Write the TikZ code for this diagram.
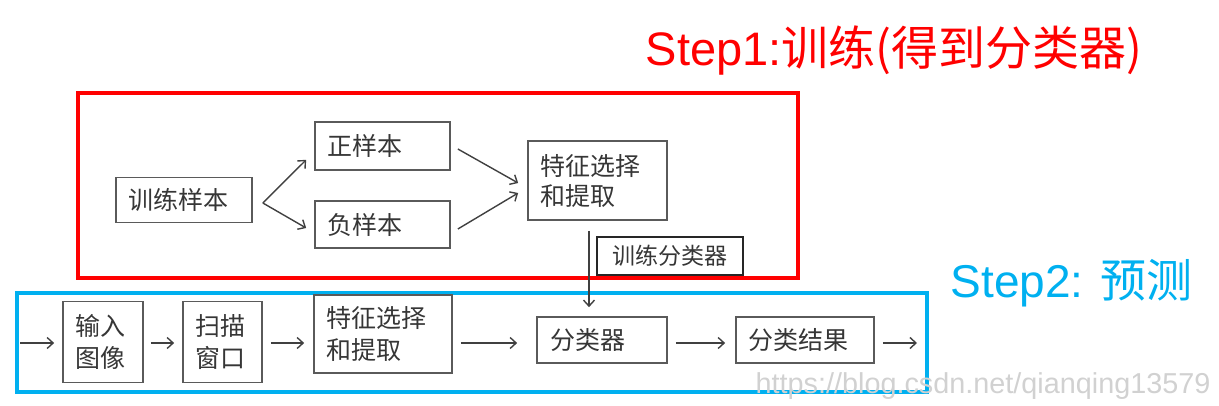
\documentclass[tikz,border=0pt]{standalone}
\usepackage{fontspec}
\setmainfont{Liberation Sans}
\newfontfamily\cjk{Noto Sans CJK SC}
\usetikzlibrary{arrows.meta}
\definecolor{cred}{HTML}{FF0000}
\definecolor{cblue}{HTML}{00B0F0}
\definecolor{cgrey}{HTML}{5A5A5A}
\definecolor{cline}{HTML}{404040}
\definecolor{ctext}{HTML}{363636}
\tikzset{
  every picture/.style={line width=1.3pt},
  box/.style={draw=cgrey, line width=1.7pt, align=left, inner xsep=#1, inner ysep=0pt, text=ctext, font=\cjk\fontsize{25}{32}\selectfont},
  box/.default=12pt,
  arrow/.style={-{Straight Barb[length=6pt,width=11pt]}, draw=cline, line width=1.4pt},
  frame/.style={draw=#1, line width=4.5pt},
  title/.style={font=\fontsize{47}{50}\selectfont, text=#1, inner sep=0pt, anchor=base west},
}

\begin{document}
\begin{tikzpicture}[x=1pt, y=-1pt]
  \useasboundingbox (0,0) rectangle (1219,405);

  \node[title=cred]  (step1) at (645,65)  {Step1:{\cjk 训练(得到分类器)}};
  \node[title=cblue, font=\fontsize{46}{50}\selectfont] (step2) at (950,297) {Step2: {\cjk 预测}};

  % ---- frames
  \draw[frame=cred]  (78,93) rectangle (798,278);
  \draw[frame=cblue] (17,293) rectangle (927,392);

  % ---- step 1: training
  \node[box, text width=112pt, minimum height=45pt] (train) at (184,200)     {训练样本};
  \node[box, text width=111pt, minimum height=48pt] (pos)   at (382.5,146)   {正样本};
  \node[box, text width=111pt, minimum height=47pt] (neg)   at (382.5,224.5) {负样本};
  \node[box, text width=115pt, minimum height=79pt, font=\cjk\fontsize{25}{30}\selectfont] (feat) at (597.5,180.5) {特征选择\\和提取};
  \node[box=15pt, text width=116pt, minimum height=38pt, draw=black!85, line width=2.4pt, font=\cjk\fontsize{23}{28}\selectfont] (fitclf) at (670,256) {训练分类器};

  % ---- step 2: prediction
  \node[box, text width=56pt, minimum height=81pt]  (img)   at (103,342)   {输入\\图像};
  \node[box, text width=55pt, minimum height=81pt]  (scan)  at (222.5,342) {扫描\\窗口};
  \node[box, text width=114pt, minimum height=78pt] (feat2) at (383,334)   {特征选择\\和提取};
  \node[box=13pt, text width=104pt, minimum height=46pt] (clf) at (602,340) {分类器};
  \node[box, text width=114pt, minimum height=46pt] (res)   at (805,340)   {分类结果};
  \coordinate (src) at (20,343);
  \coordinate (out) at (917,343);

  % training arrows
  \draw[arrow] ([xshift=10pt,yshift=-3pt]train.east) -- ([xshift=-8pt,yshift=11pt]pos.south west);
  \draw[arrow] ([xshift=10pt,yshift=-3pt]train.east) -- ([xshift=-8pt,yshift=-3.5pt]neg.west);
  \draw[arrow] ([xshift=7pt,yshift=-3pt]pos.east) -- ([xshift=-9pt,yshift=-2.5pt]feat.west);
  \draw[arrow] ([xshift=7pt,yshift=-4.5pt]neg.east) -- ([xshift=-9pt,yshift=-12.5pt]feat.west);
  \draw[arrow] ([xshift=-8.5pt,yshift=-10pt]feat.south) -- ([xshift=-13pt,yshift=9pt]clf.north);

  % prediction arrows
  \draw[arrow, shorten >=8pt] (src) -- (img.west |- src);
  \draw[arrow, shorten <=7pt, shorten >=8pt] (img.east |- src) -- (scan.west |- src);
  \draw[arrow, shorten <=8pt, shorten >=9pt] (scan.east |- src) -- (feat2.west |- src);
  \draw[arrow, shorten <=8pt, shorten >=19pt] (feat2.east |- src) -- (clf.west |- src);
  \draw[arrow, shorten <=8pt, shorten >=10pt] (clf.east |- src) -- (res.west |- src);
  \draw[arrow, shorten <=8pt] (res.east |- src) -- (out);

  \node[font=\fontsize{28.8}{30}\selectfont, text=black!18, anchor=base west, inner sep=0pt] (mark) at (755,393) {https://blog.csdn.net/qianqing13579};
\end{tikzpicture}
\end{document}
